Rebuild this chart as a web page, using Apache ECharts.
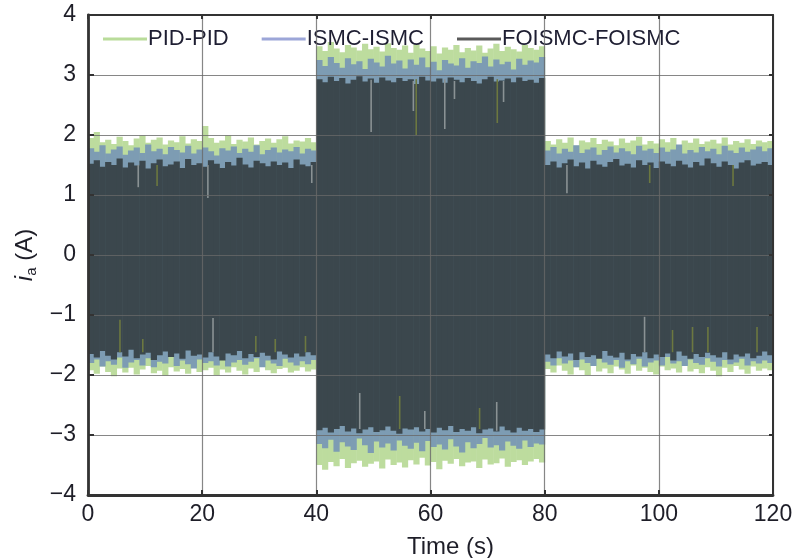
<!DOCTYPE html>
<html>
<head>
<meta charset="utf-8">
<script src="https://cdn.jsdelivr.net/npm/echarts@6/dist/echarts.min.js"></script>
<style>
  html, body { margin: 0; padding: 0; background: #fff; }
  #chart { width: 806px; height: 558px; }
</style>
</head>
<body>
<div id="chart"></div>
<script>
// Phase current i_a envelopes, one value per 1 s interval (start times below)
const sampleTimes = [
  0,1,2,3,4,5,6,7,8,9,10,11,12,13,14,15,16,17,18,19,
  20,21,22,23,24,25,26,27,28,29,30,31,32,33,34,35,36,37,38,39,
  40,41,42,43,44,45,46,47,48,49,50,51,52,53,54,55,56,57,58,59,
  60,61,62,63,64,65,66,67,68,69,70,71,72,73,74,75,76,77,78,79,
  80,81,82,83,84,85,86,87,88,89,90,91,92,93,94,95,96,97,98,99,
  100,101,102,103,104,105,106,107,108,109,110,111,112,113,114,115,116,117,118,119
];

// PID-PID: positive and negative peaks (A)
const pidHi = [
  1.95,2.05,1.88,1.92,1.85,1.97,1.90,1.83,1.94,1.99,1.87,1.92,1.96,1.84,1.91,1.88,1.98,1.86,1.93,1.90,
  2.15,1.95,1.87,1.91,1.99,1.85,1.92,1.89,1.96,1.84,1.90,1.94,1.87,1.93,1.98,1.86,1.91,1.89,1.95,1.88,
  3.48,3.40,3.55,3.44,3.38,3.50,3.46,3.41,3.52,3.43,3.47,3.39,3.53,3.45,3.42,3.49,3.37,3.51,3.44,3.40,
  3.48,3.36,3.46,3.42,3.50,3.38,3.45,3.41,3.49,3.37,3.44,3.52,3.40,3.47,3.43,3.39,3.50,3.45,3.42,3.48,
  1.90,1.84,1.93,1.87,1.96,1.82,1.91,1.88,1.95,1.85,1.92,1.89,1.83,1.94,1.87,1.91,1.97,1.84,1.90,1.86,
  1.93,1.88,1.95,1.83,1.91,1.87,1.94,1.85,1.89,1.92,1.86,1.96,1.84,1.90,1.87,1.93,1.85,1.91,1.88,1.90
];
const pidLo = [
  -1.92,-1.98,-1.86,-1.95,-2.02,-1.89,-1.96,-1.88,-1.99,-1.91,-1.85,-1.97,-1.93,-2.01,-1.87,-1.94,-1.90,-1.98,-1.86,-1.95,
  -1.92,-1.88,-2.00,-1.91,-1.96,-1.87,-1.93,-1.99,-1.89,-1.95,-1.86,-1.92,-1.97,-1.90,-1.88,-1.96,-1.93,-1.87,-1.94,-1.91,
  -3.50,-3.58,-3.45,-3.52,-3.40,-3.55,-3.47,-3.43,-3.53,-3.48,-3.44,-3.56,-3.41,-3.50,-3.46,-3.54,-3.42,-3.49,-3.38,-3.51,
  -3.45,-3.57,-3.43,-3.48,-3.40,-3.52,-3.46,-3.44,-3.55,-3.41,-3.49,-3.47,-3.39,-3.53,-3.45,-3.42,-3.50,-3.44,-3.40,-3.46,
  -1.90,-1.96,-1.84,-1.93,-1.99,-1.87,-1.92,-2.00,-1.85,-1.94,-1.89,-1.97,-1.86,-1.91,-1.98,-1.84,-1.93,-1.88,-1.95,-1.99,
  -1.86,-1.92,-1.89,-1.96,-1.83,-1.94,-1.90,-1.97,-1.87,-1.93,-2.02,-1.88,-1.95,-1.85,-1.91,-1.98,-1.86,-1.93,-1.89,-1.92
];

// ISMC-ISMC
const ismcHi = [
  1.78,1.72,1.83,1.69,1.76,1.81,1.67,1.74,1.79,1.70,1.84,1.73,1.77,1.68,1.80,1.75,1.71,1.82,1.69,1.76,
  1.79,1.73,1.66,1.78,1.74,1.81,1.70,1.77,1.72,1.83,1.68,1.75,1.79,1.71,1.76,1.73,1.80,1.69,1.77,1.74,
  3.25,3.15,3.30,3.20,3.12,3.28,3.18,3.23,3.10,3.27,3.21,3.14,3.32,3.19,3.24,3.11,3.26,3.17,3.29,3.13,
  3.22,3.08,3.25,3.19,3.16,3.28,3.12,3.23,3.20,3.31,3.14,3.26,3.18,3.22,3.09,3.27,3.17,3.24,3.21,3.30,
  1.74,1.80,1.69,1.77,1.72,1.83,1.70,1.76,1.79,1.67,1.75,1.81,1.71,1.78,1.73,1.68,1.82,1.74,1.77,1.70,
  1.79,1.72,1.76,1.84,1.69,1.75,1.71,1.80,1.73,1.77,1.68,1.82,1.74,1.70,1.79,1.72,1.76,1.81,1.73,1.78
];
const ismcLo = [
  -1.80,-1.74,-1.86,-1.77,-1.83,-1.71,-1.88,-1.79,-1.75,-1.84,-1.72,-1.87,-1.78,-1.81,-1.70,-1.85,-1.76,-1.82,-1.89,-1.74,
  -1.80,-1.77,-1.84,-1.71,-1.86,-1.79,-1.75,-1.83,-1.78,-1.72,-1.87,-1.76,-1.81,-1.85,-1.73,-1.79,-1.84,-1.77,-1.82,-1.75,
  -3.15,-3.22,-3.08,-3.28,-3.12,-3.19,-3.25,-3.06,-3.17,-3.30,-3.11,-3.21,-3.14,-3.26,-3.09,-3.18,-3.23,-3.13,-3.27,-3.10,
  -3.20,-3.16,-3.24,-3.07,-3.19,-3.29,-3.12,-3.22,-3.15,-3.05,-3.21,-3.17,-3.26,-3.11,-3.18,-3.23,-3.09,-3.20,-3.14,-3.16,
  -1.78,-1.84,-1.72,-1.81,-1.76,-1.87,-1.74,-1.80,-1.85,-1.71,-1.79,-1.83,-1.75,-1.88,-1.77,-1.82,-1.73,-1.86,-1.79,-1.76,
  -1.84,-1.70,-1.81,-1.77,-1.85,-1.74,-1.80,-1.83,-1.72,-1.78,-1.86,-1.75,-1.82,-1.79,-1.73,-1.84,-1.77,-1.81,-1.76,-1.80
];

// FOISMC-FOISMC
const foHi = [
  1.52,1.58,1.47,1.55,1.50,1.61,1.46,1.54,1.49,1.57,1.44,1.53,1.59,1.48,1.51,1.56,1.45,1.60,1.50,1.53,
  1.47,1.58,1.52,1.45,1.55,1.49,1.62,1.51,1.46,1.57,1.53,1.48,1.56,1.50,1.54,1.45,1.59,1.51,1.48,1.55,
  2.93,2.88,2.97,2.90,2.95,2.86,2.92,2.98,2.89,2.94,2.87,2.96,2.91,2.88,2.95,2.90,2.93,2.85,2.97,2.91,
  2.89,2.94,2.87,2.96,2.92,2.88,2.95,2.90,2.86,2.93,2.97,2.89,2.91,2.94,2.88,2.96,2.90,2.92,2.87,2.95,
  1.50,1.56,1.46,1.53,1.59,1.48,1.54,1.44,1.57,1.51,1.47,1.55,1.60,1.49,1.52,1.46,1.58,1.50,1.54,1.45,
  1.56,1.52,1.48,1.57,1.51,1.46,1.55,1.49,1.61,1.53,1.47,1.56,1.50,1.44,1.54,1.58,1.49,1.52,1.55,1.50
];
const foLo = [
  -1.65,-1.71,-1.60,-1.68,-1.74,-1.62,-1.69,-1.58,-1.72,-1.66,-1.63,-1.75,-1.67,-1.61,-1.70,-1.64,-1.73,-1.59,-1.68,-1.66,
  -1.71,-1.62,-1.69,-1.76,-1.64,-1.67,-1.60,-1.72,-1.65,-1.70,-1.63,-1.68,-1.74,-1.61,-1.66,-1.71,-1.64,-1.69,-1.62,-1.67,
  -2.92,-2.88,-2.96,-2.90,-2.85,-2.94,-2.89,-2.97,-2.91,-2.87,-2.95,-2.92,-2.86,-2.93,-2.98,-2.89,-2.91,-2.87,-2.94,-2.90,
  -2.96,-2.88,-2.92,-2.85,-2.95,-2.90,-2.93,-2.87,-2.97,-2.91,-2.89,-2.94,-2.86,-2.92,-2.96,-2.88,-2.93,-2.90,-2.95,-2.91,
  -1.66,-1.72,-1.61,-1.69,-1.64,-1.75,-1.62,-1.70,-1.67,-1.73,-1.60,-1.68,-1.71,-1.63,-1.74,-1.65,-1.69,-1.62,-1.72,-1.66,
  -1.70,-1.64,-1.76,-1.61,-1.68,-1.73,-1.65,-1.70,-1.63,-1.67,-1.71,-1.62,-1.74,-1.66,-1.69,-1.64,-1.72,-1.68,-1.61,-1.67
];

// Isolated transients inside the FOISMC band: [time, from, to]
const greySpikes = [
  [8.8, 1.50, 1.13], [21.0, 1.50, 0.95], [39.2, 1.50, 1.20], [21.9, -1.62, -1.05],
  [49.6, 2.92, 2.05], [57.0, 2.90, 2.40], [62.5, 2.93, 2.10], [64.2, 2.90, 2.60], [72.8, 2.90, 2.55],
  [47.6, -2.90, -2.30], [59.0, -2.90, -2.60], [71.6, -2.93, -2.45],
  [83.9, 1.50, 1.03], [97.5, -1.62, -1.03]
];
const oliveSpikes = [
  [5.6, -1.62, -1.08], [9.6, -1.62, -1.40], [12.1, 1.50, 1.15], [29.4, -1.62, -1.35], [32.8, -1.62, -1.40], [38.1, -1.62, -1.35],
  [57.5, 2.93, 2.00], [71.7, 2.93, 2.20], [54.6, -2.90, -2.35], [68.6, -2.90, -2.55],
  [98.4, 1.50, 1.20], [113.0, 1.50, 1.15], [102.4, -1.62, -1.25], [105.9, -1.62, -1.20], [108.6, -1.62, -1.20], [117.2, -1.62, -1.20]
];

const xTicks = [0, 20, 40, 60, 80, 100, 120];
const yTicks = [-4, -3, -2, -1, 0, 1, 2, 3, 4];

const SERIES_NAMES = ['PID-PID', 'ISMC-ISMC', 'FOISMC-FOISMC'];
const BAND_COLORS = ['#bddc9e', '#7d9cb3', '#3b474d'];
const LEGEND_COLORS = ['#b9dc9a', '#9ca6d8', '#5a5a5a'];
const STEP = sampleTimes[1] - sampleTimes[0];

function bandData(lo, hi) {
  return sampleTimes.map((t, i) => [t, lo[i], hi[i]]);
}

function renderBand(params, api) {
  const t = api.value(0);
  const top = api.coord([t, api.value(2)]);
  const bot = api.coord([t + STEP, api.value(1)]);
  return {
    type: 'rect',
    shape: { x: top[0], y: top[1], width: bot[0] - top[0] + 0.5, height: bot[1] - top[1] },
    style: { fill: api.visual('color') }
  };
}

function renderSpike(params, api) {
  const a = api.coord([api.value(0), api.value(1)]);
  const b = api.coord([api.value(0), api.value(2)]);
  return {
    type: 'line',
    shape: { x1: a[0], y1: a[1], x2: b[0], y2: b[1] },
    style: { stroke: api.visual('color'), lineWidth: 1.6 }
  };
}

const axisDark = '#333333';
const gridLine = { color: 'rgba(104,104,104,0.8)', width: 1.2 };
const tickFont = { fontFamily: 'Liberation Sans, Arial, sans-serif', fontSize: 23, color: '#1e1e28' };

const chart = echarts.init(document.getElementById('chart'), null, { renderer: 'canvas' });
chart.setOption({
  backgroundColor: '#ffffff',
  animation: false,
  grid: { left: 88, right: 33, top: 15, bottom: 63, outerBoundsMode: 'none', containLabel: false },
  legend: {
    left: 98, top: 23,
    itemWidth: 44, itemHeight: 3, itemGap: 33,
    icon: 'rect',
    textStyle: { fontFamily: 'Liberation Sans, Arial, sans-serif', fontSize: 22, color: '#1e1e32', padding: [0, 0, 0, -4] },
    data: SERIES_NAMES.map((n, i) => ({ name: n, itemStyle: { color: LEGEND_COLORS[i] } }))
  },
  xAxis: [
    {
      type: 'value', position: 'bottom', min: xTicks[0], max: xTicks[xTicks.length - 1],
      interval: xTicks[1] - xTicks[0], z: 10,
      name: 'Time (s)', nameLocation: 'middle', nameGap: 40,
      nameTextStyle: { fontFamily: 'Liberation Sans, Arial, sans-serif', fontSize: 24, color: '#1e1e28', padding: [0, 0, 0, 40] },
      axisLine: { show: true, onZero: false, lineStyle: { color: axisDark, width: 2.8 } },
      axisTick: { show: true, inside: true, length: 5, lineStyle: { color: axisDark, width: 2 } },
      axisLabel: Object.assign({ margin: 8 }, tickFont),
      splitLine: { show: true, lineStyle: gridLine }
    },
    {
      type: 'value', position: 'top', min: xTicks[0], max: xTicks[xTicks.length - 1],
      interval: xTicks[1] - xTicks[0], z: 10,
      axisLine: { show: true, onZero: false, lineStyle: { color: axisDark, width: 2 } },
      axisTick: { show: true, inside: true, length: 4, lineStyle: { color: axisDark, width: 2 } },
      axisLabel: { show: false }, splitLine: { show: false }
    }
  ],
  yAxis: [
    {
      type: 'value', position: 'left', min: yTicks[0], max: yTicks[yTicks.length - 1],
      interval: yTicks[1] - yTicks[0], z: 10,
      name: '{i|i}{s|a}{n| (A)}', nameLocation: 'middle', nameGap: 35, nameRotate: 90,
      nameTextStyle: {
        rich: {
          i: { fontFamily: 'Liberation Sans, Arial, sans-serif', fontSize: 24, fontStyle: 'italic', color: '#1e1e28' },
          s: { fontFamily: 'Liberation Sans, Arial, sans-serif', fontSize: 15, color: '#1e1e28', padding: [12, 0, 0, 0] },
          n: { fontFamily: 'Liberation Sans, Arial, sans-serif', fontSize: 24, color: '#1e1e28' }
        }
      },
      axisLine: { show: true, onZero: false, lineStyle: { color: axisDark, width: 2.8 } },
      axisTick: { show: true, inside: true, length: 6, lineStyle: { color: axisDark, width: 2 } },
      axisLabel: Object.assign({ margin: 12, formatter: v => (v < 0 ? '\u2212' + Math.abs(v) : String(v)) }, tickFont),
      splitLine: { show: true, lineStyle: gridLine }
    },
    {
      type: 'value', position: 'right', min: yTicks[0], max: yTicks[yTicks.length - 1],
      interval: yTicks[1] - yTicks[0], z: 10,
      axisLine: { show: true, onZero: false, lineStyle: { color: axisDark, width: 2 } },
      axisTick: { show: true, inside: true, length: 4, lineStyle: { color: axisDark, width: 2 } },
      axisLabel: { show: false }, splitLine: { show: false }
    }
  ],
  series: [
    {
      name: SERIES_NAMES[0], type: 'custom', renderItem: renderBand, clip: true, z: 2,
      itemStyle: { color: BAND_COLORS[0] }, encode: { x: 0, y: [1, 2] }, data: bandData(pidLo, pidHi)
    },
    {
      name: SERIES_NAMES[1], type: 'custom', renderItem: renderBand, clip: true, z: 3,
      itemStyle: { color: BAND_COLORS[1] }, encode: { x: 0, y: [1, 2] }, data: bandData(ismcLo, ismcHi)
    },
    {
      name: SERIES_NAMES[2], type: 'custom', renderItem: renderBand, clip: true, z: 4,
      itemStyle: { color: BAND_COLORS[2] }, encode: { x: 0, y: [1, 2] }, data: bandData(foLo, foHi)
    },
    {
      name: 'grey transients', type: 'custom', renderItem: renderSpike, clip: true, z: 5,
      itemStyle: { color: '#8a9294' }, encode: { x: 0, y: [1, 2] }, data: greySpikes
    },
    {
      name: 'olive transients', type: 'custom', renderItem: renderSpike, clip: true, z: 5,
      itemStyle: { color: '#6c7840' }, encode: { x: 0, y: [1, 2] }, data: oliveSpikes
    }
  ]
});
</script>
</body>
</html>
